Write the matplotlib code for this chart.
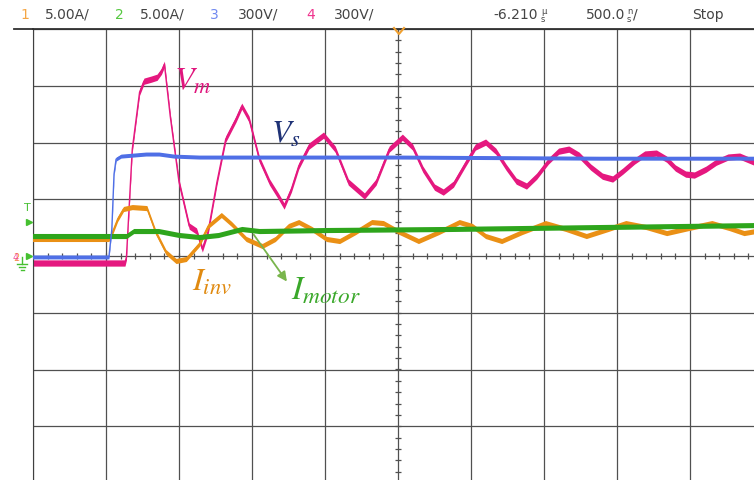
import numpy as np
import matplotlib
matplotlib.use("Agg")
import matplotlib.pyplot as plt
from matplotlib.lines import Line2D

plt.rcParams['mathtext.fontset'] = 'stix'

# scope settings
volts_per_div = 300.0
amps_per_div = 5.0
t_center = -6.210   # us
t_per_div = 0.5     # us (500 ns/div)

# ch4 - motor voltage Vm (V)
time_vm = [-8.72, -8.08, -8.07, -8.03, -7.98, -7.95, -7.90, -7.86, -7.83, -7.81,
           -7.77, -7.71, -7.64, -7.59, -7.55, -7.51, -7.45, -7.39, -7.32, -7.28,
           -7.23, -7.16, -7.09, -7.03, -6.99, -6.94, -6.89, -6.82, -6.72, -6.64,
           -6.55, -6.44, -6.36, -6.27, -6.18, -6.11, -6.04, -5.96, -5.90, -5.83,
           -5.75, -5.68, -5.61, -5.54, -5.47, -5.40, -5.33, -5.26, -5.18, -5.11,
           -5.04, -4.97, -4.89, -4.81, -4.74, -4.67, -4.59, -4.52, -4.44, -4.37,
           -4.31, -4.24, -4.18, -4.10, -4.03, -3.95, -3.87, -3.82, -3.72]
vm = [-37, -37, -5, 565, 866, 924, 935, 945, 977, 1014,
      739, 391, 158, 132, 37, 132, 391, 618, 723, 792,
      723, 512, 391, 317, 264, 354, 475, 581, 639, 565,
      391, 317, 391, 565, 628, 576, 459, 364, 338, 380,
      486, 576, 602, 554, 470, 396, 370, 422, 502, 554,
      565, 533, 470, 422, 407, 449, 502, 539, 544, 512,
      465, 433, 428, 459, 496, 523, 528, 512, 480]

# ch3 - supply voltage Vs (V)
time_vs = [-8.72, -8.19, -8.17, -8.155, -8.141, -8.107, -7.936, -7.847, -7.744,
           -7.573, -6.20, -4.83, -3.72]
vs = [-5, -5, 143, 433, 512, 528, 539, 539, 528, 523, 523, 517, 517]

# ch1 - inverter current Iinv (A)
time_iinv = [-8.72, -8.19, -8.17, -8.13, -8.09, -8.03, -7.93, -7.87, -7.80, -7.73,
             -7.66, -7.57, -7.51, -7.42, -7.35, -7.25, -7.14, -7.05, -6.96, -6.89,
             -6.80, -6.70, -6.61, -6.50, -6.39, -6.31, -6.20, -6.07, -5.93, -5.79,
             -5.70, -5.61, -5.50, -5.36, -5.20, -5.06, -4.92, -4.77, -4.65, -4.51,
             -4.37, -4.22, -4.06, -3.94, -3.84, -3.72]
iinv = [1.50, 1.50, 1.94, 3.26, 4.14, 4.31, 4.22, 2.11, 0.35, -0.44,
        -0.26, 1.06, 2.64, 3.61, 2.82, 1.50, 0.88, 1.50, 2.64, 2.99,
        2.38, 1.50, 1.32, 2.11, 2.99, 2.90, 2.11, 1.32, 2.11, 2.99,
        2.64, 1.76, 1.32, 2.11, 2.90, 2.38, 1.76, 2.38, 2.90, 2.55,
        2.02, 2.46, 2.90, 2.46, 2.02, 2.29]

# ch2 - motor current Imotor (A)
time_imotor = [-8.72, -8.07, -8.02, -7.85, -7.71, -7.57, -7.44, -7.28, -7.16,
               -6.68, -5.86, -4.83, -3.72]
imotor = [1.76, 1.76, 2.20, 2.20, 1.85, 1.67, 1.85, 2.38, 2.20,
          2.29, 2.38, 2.55, 2.73]

W, H = 754, 481
fig = plt.figure(figsize=(W / 100, H / 100), dpi=100)
fig.patch.set_facecolor('white')

# screen: 10 x 8 divisions, cropped on the right and bottom
ax = fig.add_axes([33 / W, 1 - 484 / H, 730 / W, 454 / H])
ax.set_xlim(t_center - 5 * t_per_div, t_center + 5 * t_per_div)
ax.set_ylim(-4, 4)
ax.set_xticks(t_center + t_per_div * np.arange(-5, 6))
ax.set_yticks(np.arange(-4, 5))
ax.tick_params(length=0, labelbottom=False, labelleft=False)
ax.grid(True, color='#505050', lw=0.9)
for side in ['right', 'bottom']:
    ax.spines[side].set_visible(False)
ax.spines['left'].set_color('#404040')
ax.spines['top'].set_color('#303030')
ax.spines['top'].set_linewidth(1.3)

# minor ticks on the centre cross
minor_x = t_center + t_per_div * np.arange(-5, 5.01, 0.2)
minor_y = np.arange(-4, 4.01, 0.2)
ax.plot(minor_x, np.zeros_like(minor_x), ls='none', marker='|', ms=5, mew=0.9, color='#505050')
ax.plot(np.full_like(minor_y, t_center), minor_y, ls='none', marker='_', ms=5, mew=0.9, color='#505050')


def trace(t, vals, per_div, color, half, z):
    y = np.asarray(vals, dtype=float) / per_div
    ax.fill_between(t, y - half, y + half, color=color, lw=0, zorder=z)
    ax.plot(t, y, color=color, lw=1.0, zorder=z)


trace(time_vm, vm, volts_per_div, '#e5187f', 0.055, 2)
trace(time_iinv, iinv, amps_per_div, '#ea9015', 0.045, 3)
trace(time_imotor, imotor, amps_per_div, '#2ea51c', 0.045, 4)
trace(time_vs, vs, volts_per_div, '#4f6fe6', 0.035, 5)

# labels
ax.text(-7.744, 2.94, r'$V_m$', color='#e0157d', fontsize=23, zorder=6)
ax.text(-7.08, 2.02, r'$V_s$', color='#1f3276', fontsize=23, zorder=6)
ax.text(-7.62, -0.58, r'$I_{inv}$', color='#e08a10', fontsize=23, zorder=6)
ax.text(-6.943, -0.757, r'$I_{motor}$', color='#3aa82a', fontsize=24, zorder=6)
ax.annotate('', xy=(-6.96, -0.49), xytext=(-7.21, 0.42),
            arrowprops=dict(arrowstyle='-|>', color='#79b54c', lw=1.3, mutation_scale=14), zorder=6)

# trigger position marker at top
fig.add_artist(Line2D(np.array([394, 399, 404]) / W, 1 - np.array([29, 35, 29]) / H,
                      color='#f0a030', lw=1.5))

# header
hdr_y = 1 - 15 / H
gray = '#444444'
header = [(20, '1', '#f5a645'), (45, '5.00A/', gray),
          (115, '2', '#55c840'), (140, '5.00A/', gray),
          (210, '3', '#7088f0'), (238, '300V/', gray),
          (306, '4', '#f0358f'), (334, '300V/', gray),
          (493, '-6.210', gray), (586, '500.0', gray), (633, '/', gray),
          (692, 'Stop', gray)]
for px, s, c in header:
    fig.text(px / W, hdr_y, s, color=c, fontsize=10, va='center', ha='left')
for px, top, bot in [(541, '\u00b5', 's'), (627, 'n', 's')]:
    fig.text(px / W, 1 - 11 / H, top, color=gray, fontsize=6, va='center', ha='left')
    fig.text(px / W, 1 - 19 / H, bot, color=gray, fontsize=6, va='center', ha='left')
fig.add_artist(Line2D([14 / W, 33 / W], [1 - 30 / H, 1 - 30 / H], color='#303030', lw=1.3))

# left-side channel markers
green_mk = '#45c030'
fig.text(27 / W, 1 - 208 / H, 'T', color=green_mk, fontsize=8, ha='center', va='center')
fig.add_artist(Line2D([29 / W], [1 - 223 / H], marker='>', ms=5, color=green_mk, ls='none'))
fig.add_artist(Line2D([29 / W], [1 - 257 / H], marker='>', ms=5, color=green_mk, ls='none'))
fig.text(16 / W, 1 - 258 / H, '2', color='#f5a645', fontsize=7, ha='center', va='center')
fig.text(16 / W, 1 - 258 / H, '4', color='#f0358f', fontsize=7, ha='center', va='center', alpha=0.8)
fig.add_artist(Line2D([22 / W, 22 / W], [1 - 258 / H, 1 - 265 / H], color=green_mk, lw=1))
for yy, hw in [(265, 5), (268, 3), (271, 1.5)]:
    fig.add_artist(Line2D([(22 - hw) / W, (22 + hw) / W], [1 - yy / H, 1 - yy / H], color=green_mk, lw=1))

fig.savefig('out.png', dpi=100)
